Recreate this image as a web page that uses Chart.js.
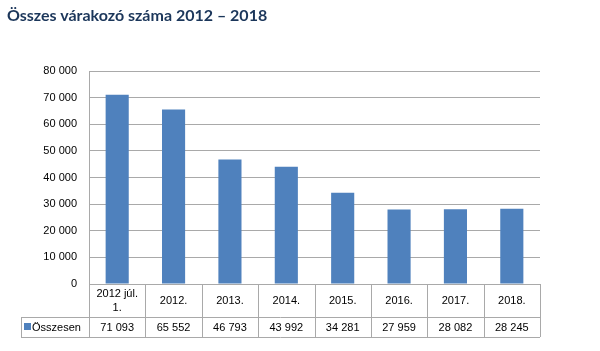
<!DOCTYPE html>
<html>
<head>
<meta charset="utf-8">
<script src="https://cdn.jsdelivr.net/npm/chart.js@4/dist/chart.umd.min.js"></script>
<style>
  body { margin: 0; background: #fff; }
  #box { position: relative; width: 600px; height: 351px; }
  #title {
    position: absolute; left: 7px; top: 5px;
    font: bold 16px Lato, "Liberation Sans", sans-serif; color: #1B365A;
  }
</style>
</head>
<body>
<div id="box">
  <canvas id="c" width="600" height="351"></canvas>
  <div id="title">Összes várakozó száma 2012 – 2018</div>
</div>
<script>
const categories = [["2012 júl.", "1."], "2012.", "2013.", "2014.", "2015.", "2016.", "2017.", "2018."];
const seriesName = "Összesen";
const values = [71093, 65552, 46793, 43992, 34281, 27959, 28082, 28245];
const yTicks = [0, 10000, 20000, 30000, 40000, 50000, 60000, 70000, 80000];

const barColor = "#4F81BD";
const lineColor = "#A9A9A9";
const font = "11px 'Liberation Sans', Arial, sans-serif";

function fmt(v) {
  return String(v).replace(/\B(?=(\d{3})+(?!\d))/g, " ");
}

// draws the data table under the plot, aligned to the x scale
const dataTable = {
  id: "dataTable",
  afterDraw(chart) {
    const ctx = chart.ctx;
    const x = chart.scales.x;
    const area = chart.chartArea;
    const row1Top = area.bottom, row1Bot = area.bottom + 33, row2Bot = row1Bot + 20;
    const legendLeft = 21;
    const n = categories.length;
    const colW = (area.right - area.left) / n;

    ctx.save();
    ctx.strokeStyle = lineColor;
    ctx.lineWidth = 1;
    ctx.beginPath();
    for (let i = 0; i <= n; i++) {
      const px = Math.round(area.left + i * colW) + 0.5;
      ctx.moveTo(px, row1Top); ctx.lineTo(px, row2Bot);
    }
    ctx.moveTo(legendLeft + 0.5, row1Bot); ctx.lineTo(legendLeft + 0.5, row2Bot);
    ctx.moveTo(legendLeft, row1Bot + 0.5); ctx.lineTo(area.right, row1Bot + 0.5);
    ctx.moveTo(legendLeft, row2Bot + 0.5); ctx.lineTo(area.right, row2Bot + 0.5);
    ctx.stroke();

    ctx.fillStyle = "#000";
    ctx.font = font;
    ctx.textAlign = "center";
    ctx.textBaseline = "middle";
    categories.forEach((c, i) => {
      const cx = x.getPixelForValue(i);
      const mid = (row1Top + row1Bot) / 2;
      if (Array.isArray(c)) {
        ctx.fillText(c[0], cx, mid - 7);
        ctx.fillText(c[1], cx, mid + 7);
      } else {
        ctx.fillText(c, cx, mid);
      }
      ctx.fillText(fmt(values[i]), cx, (row1Bot + row2Bot) / 2 + 1);
    });

    ctx.fillStyle = barColor;
    ctx.fillRect(legendLeft + 3, row1Bot + 6, 7, 7);
    ctx.fillStyle = "#000";
    ctx.textAlign = "left";
    ctx.fillText(seriesName, legendLeft + 11, (row1Bot + row2Bot) / 2 + 1);
    ctx.restore();
  }
};

new Chart(document.getElementById("c"), {
  type: "bar",
  data: {
    labels: categories,
    datasets: [{
      label: seriesName,
      data: values,
      backgroundColor: barColor,
      categoryPercentage: 1,
      barPercentage: 0.41
    }]
  },
  options: {
    responsive: false,
    animation: false,
    layout: { padding: { left: 0, right: 60, top: 71, bottom: 67 } },
    scales: {
      x: { display: false },
      y: {
        min: 0, max: 80000,
        afterFit: s => { s.width = 89; },
        afterBuildTicks: s => { s.ticks = yTicks.map(v => ({ value: v })); },
        ticks: {
          padding: 12,
          color: "#000",
          font: { family: "'Liberation Sans', Arial, sans-serif", size: 11 },
          callback: v => fmt(v)
        },
        grid: { color: lineColor, drawTicks: false },
        border: { display: true, color: lineColor }
      }
    },
    plugins: {
      legend: { display: false },
      tooltip: { enabled: false }
    }
  },
  plugins: [dataTable]
});
</script>
</body>
</html>
